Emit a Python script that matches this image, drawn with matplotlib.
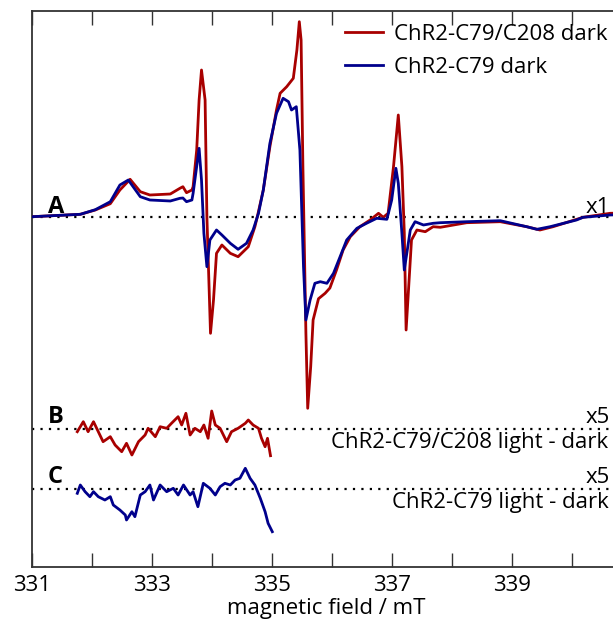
import matplotlib
matplotlib.use("Agg")
import matplotlib.pyplot as plt
import numpy as np

# ---------------- data ----------------
# Spectrum A, ChR2-C79/C208 dark (red)
field_red = [331.0, 331.8, 332.05, 332.3, 332.46, 332.63, 332.8, 332.96, 333.3, 333.46,
             333.51, 333.57, 333.66, 333.68, 333.74, 333.78, 333.82, 333.88, 333.91, 333.97,
             334.02, 334.07, 334.16, 334.3, 334.43, 334.6, 334.71, 334.75, 334.85, 334.96,
             335.07, 335.13, 335.24, 335.35, 335.41, 335.45, 335.48, 335.51, 335.53, 335.56,
             335.59, 335.64, 335.68, 335.77, 335.88, 335.96, 336.07, 336.18, 336.3, 336.46,
             336.63, 336.77, 336.85, 336.93, 337.02, 337.1, 337.16, 337.2, 337.23, 337.32,
             337.41, 337.55, 337.68, 337.8, 338.24, 338.8, 339.24, 339.46, 339.68, 340.18,
             340.63, 341.0]
signal_red = [0, 2.4, 6.7, 13, 26.7, 37.4, 25, 21.7, 22.7, 28.4,
              30, 24, 26.7, 30, 66.7, 116.7, 146.7, 116.7, 0, -116.6,
              -83.3, -36.6, -28.3, -36.6, -40, -30, -10, 0, 26.7, 70,
              106.7, 123.4, 130, 138.4, 166.7, 195, 176.7, 50, -16.3, -116.3,
              -191.6, -150, -103.3, -82, -76.6, -71.3, -53.3, -33.3, -20, -10,
              -3.3, 3.4, -0.6, 3.4, 50, 101.7, 50, -16.3, -113.3, -23.3,
              -13.3, -15, -10, -10.6, -6, -5, -10, -13.3, -10, -0.6,
              3.4, 4]

# Spectrum A, ChR2-C79 dark (blue)
field_blue = [331.0, 331.8, 332.05, 332.3, 332.46, 332.6, 332.8, 332.96, 333.3, 333.46,
              333.51, 333.57, 333.66, 333.68, 333.78, 333.82, 333.86, 333.91, 333.96, 334.07,
              334.16, 334.3, 334.43, 334.57, 334.68, 334.77, 334.85, 334.96, 335.07, 335.18,
              335.27, 335.32, 335.4, 335.46, 335.52, 335.56, 335.63, 335.71, 335.8, 335.91,
              336.02, 336.13, 336.24, 336.41, 336.57, 336.74, 336.91, 336.99, 337.06, 337.1,
              337.16, 337.2, 337.25, 337.3, 337.38, 337.52, 337.68, 337.8, 338.24, 338.8,
              339.24, 339.41, 339.63, 340.07, 340.18, 340.63, 341.0]
signal_blue = [0, 2.4, 7, 15, 31.7, 36.7, 20, 16.7, 15.7, 18.4,
               18.7, 15, 16.7, 23.4, 68.4, 36.7, -16.6, -50, -23.3, -13.3,
               -18.3, -26.6, -32.6, -26.6, -13.3, 3.4, 26.7, 73.4, 103.4, 118.4,
               115, 106.7, 110, 66.7, -50, -103.3, -83.3, -66.6, -65, -66.6,
               -56.6, -40, -23.3, -11.6, -6.6, -1.6, -2.6, 16.7, 48.4, 33.4,
               -16.6, -53.3, -33.3, -13.3, -5, -8.3, -6.6, -6, -5, -4,
               -10, -12.6, -10, -3.3, -0.6, 1.7, 2.5]

# Difference spectra (x5)
field_B = [331.75, 331.85, 331.93, 332.02, 332.1, 332.18, 332.3, 332.38, 332.49, 332.57,
           332.66, 332.77, 332.88, 332.93, 333.05, 333.13, 333.24, 333.32, 333.43, 333.49,
           333.56, 333.63, 333.71, 333.8, 333.86, 333.93, 333.99, 334.05, 334.13, 334.24,
           334.32, 334.43, 334.55, 334.6, 334.68, 334.77, 334.82, 334.88, 334.92, 334.97]
signal_B = [-3, 7, -3, 7, -3, -13, -8, -16.3, -23, -14.6,
            -26.3, -13, -6.3, 0.4, -8, 2, 0.4, 5.4, 12, 3.7,
            15.4, -6.3, 0.4, -3, 3.7, -9.6, 17.7, 3.7, 0.4, -13,
            -3, 0.4, 5.4, 8.7, 3.7, 0.4, -9.6, -18, -9.6, -27]

field_C = [331.75, 331.8, 331.88, 331.96, 332.02, 332.1, 332.21, 332.3, 332.35, 332.46,
           332.55, 332.57, 332.66, 332.71, 332.8, 332.88, 332.96, 333.02, 333.13, 333.24,
           333.35, 333.43, 333.52, 333.63, 333.68, 333.76, 333.85, 333.96, 334.05, 334.13,
           334.21, 334.3, 334.38, 334.46, 334.55, 334.63, 334.71, 334.8, 334.88, 334.93,
           335.0]
signal_C = [-4.6, 3.7, -3, -8, -3, -8, -11.3, -8, -16.3, -21.3,
            -26.3, -31.3, -23, -28, -6.3, -3, 3.7, -11.3, 3.7, -3,
            0.4, -6.3, 3.7, -6.3, -3, -18, 5.4, 0.4, -6.3, 2,
            5.4, 3.7, 8.7, 10.4, 20.4, 10.4, 3.7, -9.6, -23, -34.6,
            -43]

tick_positions = [331, 332, 333, 334, 335, 336, 337, 338, 339, 340]
tick_labels = ["331", "", "333", "", "335", "", "337", "", "339", ""]

# ---------------- style ----------------
plt.rcParams['font.family'] = ['Open Sans', 'DejaVu Sans']
RED = '#A80000'
BLUE = '#00008C'
DARK = '#333333'
FS = 16

W, H = 613, 630
fig = plt.figure(figsize=(W / 100, H / 100), dpi=100)
ax = fig.add_axes([32.3 / W, 63 / H, 600 / W, (567 - 10.7) / H])

off_B = -212
off_C = -272

for off in (0, off_B, off_C):
    ax.axhline(off, color='black', lw=1.6, ls=(0, (1, 2.8)), zorder=1)

ax.plot(field_red, signal_red, color=RED, lw=2.0, label='ChR2-C79/C208 dark', zorder=3)
ax.plot(field_blue, signal_blue, color=BLUE, lw=2.0, label='ChR2-C79 dark', zorder=4)
ax.plot(field_B, np.array(signal_B) + off_B, color=RED, lw=2.0, zorder=3)
ax.plot(field_C, np.array(signal_C) + off_C, color=BLUE, lw=2.0, zorder=3)

ax.set_xlim(331, 341)
ax.set_ylim(-350.3, 206)

ax.set_xticks(tick_positions)
ax.set_xticklabels(tick_labels, fontsize=FS)
ax.set_yticks([])
ax.tick_params(axis='x', direction='in', length=10, width=1.0, color=DARK,
               top=True, bottom=True, labeltop=False, pad=6)
for s in ('left', 'bottom', 'top'):
    ax.spines[s].set_color(DARK)
    ax.spines[s].set_linewidth(1.3)
ax.spines['right'].set_visible(False)

ax.set_xlabel('magnetic field / mT', fontsize=FS, labelpad=2)
ax.xaxis.set_label_coords((326 - 32.3) / 600, -0.055)

# labels
ax.text(331.26, 4, 'A', fontsize=17, fontweight='bold', ha='left', va='baseline')
ax.text(331.26, off_B + 6, 'B', fontsize=17, fontweight='bold', ha='left', va='baseline')
ax.text(331.26, off_C + 6, 'C', fontsize=17, fontweight='bold', ha='left', va='baseline')

ax.text(340.62, 4, 'x1', fontsize=FS, ha='right', va='baseline')
ax.text(340.62, off_B + 6, 'x5', fontsize=FS, ha='right', va='baseline')
ax.text(340.62, off_C + 6, 'x5', fontsize=FS, ha='right', va='baseline')
ax.text(340.6, off_B - 3, 'ChR2-C79/C208 light - dark', fontsize=FS, ha='right', va='top')
ax.text(340.6, off_C - 3, 'ChR2-C79 light - dark', fontsize=FS, ha='right', va='top')

ax.legend(loc='upper left', bbox_to_anchor=(345 / W, 1 - 24 / H),
          bbox_transform=fig.transFigure, frameon=False, fontsize=FS,
          handlelength=1.7, handletextpad=0.5, labelspacing=0.55,
          borderpad=0, borderaxespad=0)

fig.savefig('out.png', dpi=100)
